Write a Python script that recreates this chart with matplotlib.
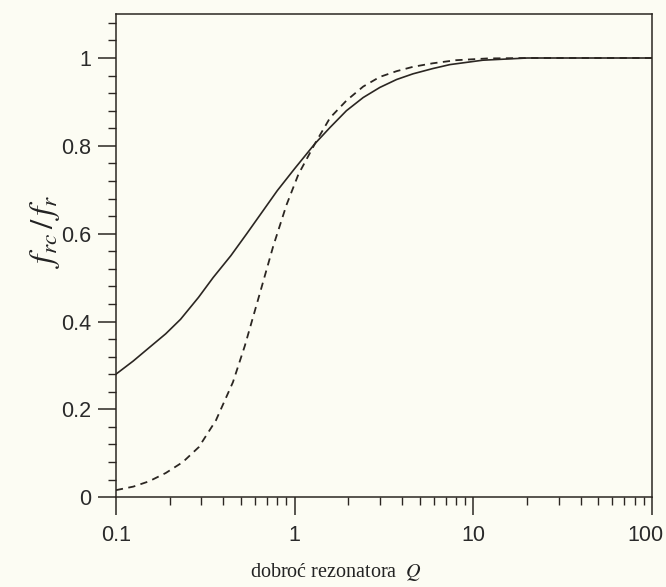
import numpy as np
import matplotlib.pyplot as plt
import matplotlib.transforms as mtransforms
from matplotlib.ticker import FixedLocator, LogLocator, NullFormatter

plt.rcParams['mathtext.fontset'] = 'stix'

# dobroć rezonatora Q oraz stosunek f_rc / f_r
q_ciagla = [0.1, 0.125, 0.153, 0.19, 0.23, 0.29, 0.35, 0.44, 0.54, 0.66,
            0.8, 1.0, 1.3, 1.58, 1.95, 2.42, 3.0, 3.72, 4.6, 5.94, 7.4,
            11.3, 20.0, 100.0]
f_ciagla = [0.28, 0.31, 0.34, 0.372, 0.405, 0.455, 0.5, 0.55, 0.60, 0.65,
            0.698, 0.748, 0.805, 0.842, 0.88, 0.91, 0.933, 0.951, 0.964,
            0.976, 0.985, 0.995, 1.0, 1.0]

q_przerywana = [0.1, 0.125, 0.153, 0.19, 0.237, 0.291, 0.363, 0.452, 0.527,
                0.64, 0.76, 0.9, 1.05, 1.3, 1.58, 1.95, 2.42, 3.0, 3.72,
                4.6, 5.94, 8.0, 12.0, 20.0, 100.0]
f_przerywana = [0.016, 0.024, 0.036, 0.055, 0.08, 0.114, 0.175, 0.262, 0.345,
                0.465, 0.572, 0.665, 0.735, 0.805, 0.864, 0.903, 0.935, 0.957,
                0.970, 0.980, 0.988, 0.995, 0.999, 1.0, 1.0]

kolor_tla = '#fcfcf3'
kolor_linii = '#2b2622'

fig = plt.figure(figsize=(6.66, 5.87), dpi=100, facecolor=kolor_tla)
ax = fig.add_axes([0.174, 0.153, 0.805, 0.823], facecolor=kolor_tla)

ax.plot(q_ciagla, f_ciagla, color=kolor_linii, lw=1.2)
ax.plot(q_przerywana, f_przerywana, color=kolor_linii, lw=1.3,
        linestyle=(0, (4, 3)))

ax.set_xscale('log')
ax.set_xlim(0.1, 100)
ax.set_ylim(0, 1.1)

ax.set_xticks([0.1, 1, 10, 100])
ax.set_xticklabels(['0.1', '1', '10', '100'])
ax.xaxis.set_minor_locator(LogLocator(base=10, subs=np.arange(2, 10)))
ax.xaxis.set_minor_formatter(NullFormatter())

ax.set_yticks([0, 0.2, 0.4, 0.6, 0.8, 1.0])
ax.set_yticklabels(['0', '0.2', '0.4', '0.6', '0.8', '1'])
ax.yaxis.set_minor_locator(FixedLocator(np.arange(0, 1.1, 0.04)))

for s in ax.spines.values():
    s.set_color(kolor_linii)
    s.set_linewidth(1.1)

ax.tick_params(which='major', direction='out', length=13, width=1.1,
               color=kolor_linii, labelsize=15.5, labelcolor='#2a2a2a',
               top=False, right=False)
ax.tick_params(which='minor', direction='out', length=6, width=1.0,
               color=kolor_linii, top=False, right=False)
ax.tick_params(axis='x', which='major', pad=7)
ax.tick_params(axis='y', which='major', pad=5)
for lab in ax.get_xticklabels() + ax.get_yticklabels():
    lab.set_family('Liberation Sans')

# etykieta "100" lekko w lewo, aby zmieściła się przy krawędzi
ostatnia = ax.get_xticklabels()[-1]
ostatnia.set_transform(ostatnia.get_transform() +
                       mtransforms.ScaledTranslation(-7 / 100, 0,
                                                     fig.dpi_scale_trans))

ax.set_xlabel('dobroć rezonatora  $Q$', family='Liberation Serif',
              fontsize=14.5, color='#222222', va='center')
ax.xaxis.set_label_coords(0.41, -0.155)
ax.set_ylabel(r'$f_{rc}\,/\,f_r$', fontsize=24, color='#222222',
              va='center')
ax.yaxis.set_label_coords(-0.132, 0.55)

fig.savefig('out.png', dpi=100, facecolor=kolor_tla)
